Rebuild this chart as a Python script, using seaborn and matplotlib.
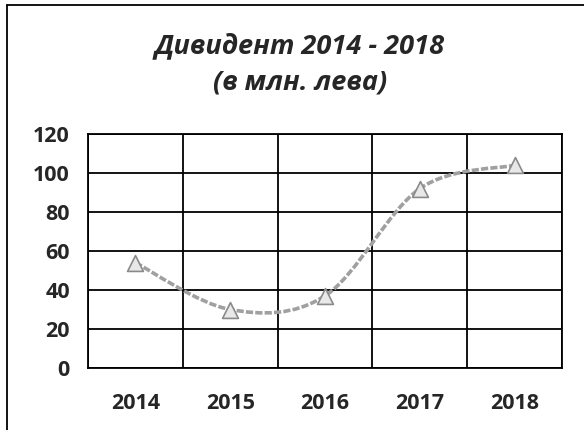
import numpy as np
import pandas as pd
import matplotlib
matplotlib.use("Agg")
import matplotlib.pyplot as plt
import seaborn as sns
from matplotlib.path import Path
from matplotlib.patches import PathPatch
from matplotlib.lines import Line2D

# data
years = ["2014", "2015", "2016", "2017", "2018"]
dividend = [54, 30, 37, 92, 104]
y_ticks = [0, 20, 40, 60, 80, 100, 120]

df = pd.DataFrame({"pos": np.arange(len(years)), "value": dividend})

sns.set_style("white")
plt.rcParams["font.family"] = ["Open Sans", "DejaVu Sans"]

fig = plt.figure(figsize=(5.84, 4.30), dpi=100)
ax = fig.add_axes([88 / 584, 1 - 368 / 430, (562 - 88) / 584, (368 - 134) / 430])

# smoothed line (Excel-style), built from the data points
pts = df[["pos", "value"]].to_numpy(dtype=float)
ext = np.vstack([pts[0], pts, pts[-1]])
verts = [tuple(pts[0])]
codes = [Path.MOVETO]
for i in range(1, len(ext) - 2):
    p0, p1, p2, p3 = ext[i - 1], ext[i], ext[i + 1], ext[i + 2]
    c1 = p1 + (p2 - p0) / 6
    c2 = p2 - (p3 - p1) / 6
    verts += [tuple(c1), tuple(c2), tuple(p2)]
    codes += [Path.CURVE4] * 3
ax.add_patch(PathPatch(Path(verts, codes), facecolor="none", edgecolor="#a0a0a0",
                       lw=2.6, linestyle=(0, (2, 0.6)), zorder=3))

sns.scatterplot(data=df, x="pos", y="value", marker="^", s=130,
                facecolor="#e8e8e8", edgecolor="#8a8a8a", linewidth=1.2,
                zorder=4, ax=ax)

ax.set_xlim(-0.5, len(years) - 0.5)
ax.set_ylim(0, 120)
ax.set_yticks(y_ticks)
ax.set_yticklabels([str(v) for v in y_ticks])
ax.set_xticks(df["pos"])
ax.set_xticklabels(years)
ax.set_xticks(np.arange(-0.5, len(years), 1), minor=True)

ax.grid(True, which="major", axis="y", color="black", lw=1.3)
ax.grid(True, which="minor", axis="x", color="black", lw=1.3)
ax.set_axisbelow(True)

for sp in ax.spines.values():
    sp.set_color("black")
    sp.set_linewidth(1.3)

ax.tick_params(axis="x", which="major", length=0, pad=18, labelsize=15.5)
ax.tick_params(axis="x", which="minor", length=7, width=1.3, color="black", direction="out")
ax.tick_params(axis="y", length=7, width=1.3, color="black", direction="out", pad=6, labelsize=15.5)
for lab in ax.get_xticklabels() + ax.get_yticklabels():
    lab.set_fontweight("bold")

ax.set_xlabel("")
ax.set_ylabel("")

fig.text(300 / 584, 1 - 46 / 430, "Дивидент 2014 - 2018", ha="center", va="center",
         fontsize=19.5, fontweight="bold", fontstyle="italic")
fig.text(300 / 584, 1 - 83 / 430, "(в млн. лева)", ha="center", va="center",
         fontsize=19.5, fontweight="bold", fontstyle="italic")

# frame around the chart
fig.add_artist(Line2D([7 / 584, 7 / 584], [0, 1 - 5 / 430], color="black", lw=1.3))
fig.add_artist(Line2D([7 / 584, 1], [1 - 5 / 430, 1 - 5 / 430], color="black", lw=1.3))

fig.savefig("out.png", dpi=100)
